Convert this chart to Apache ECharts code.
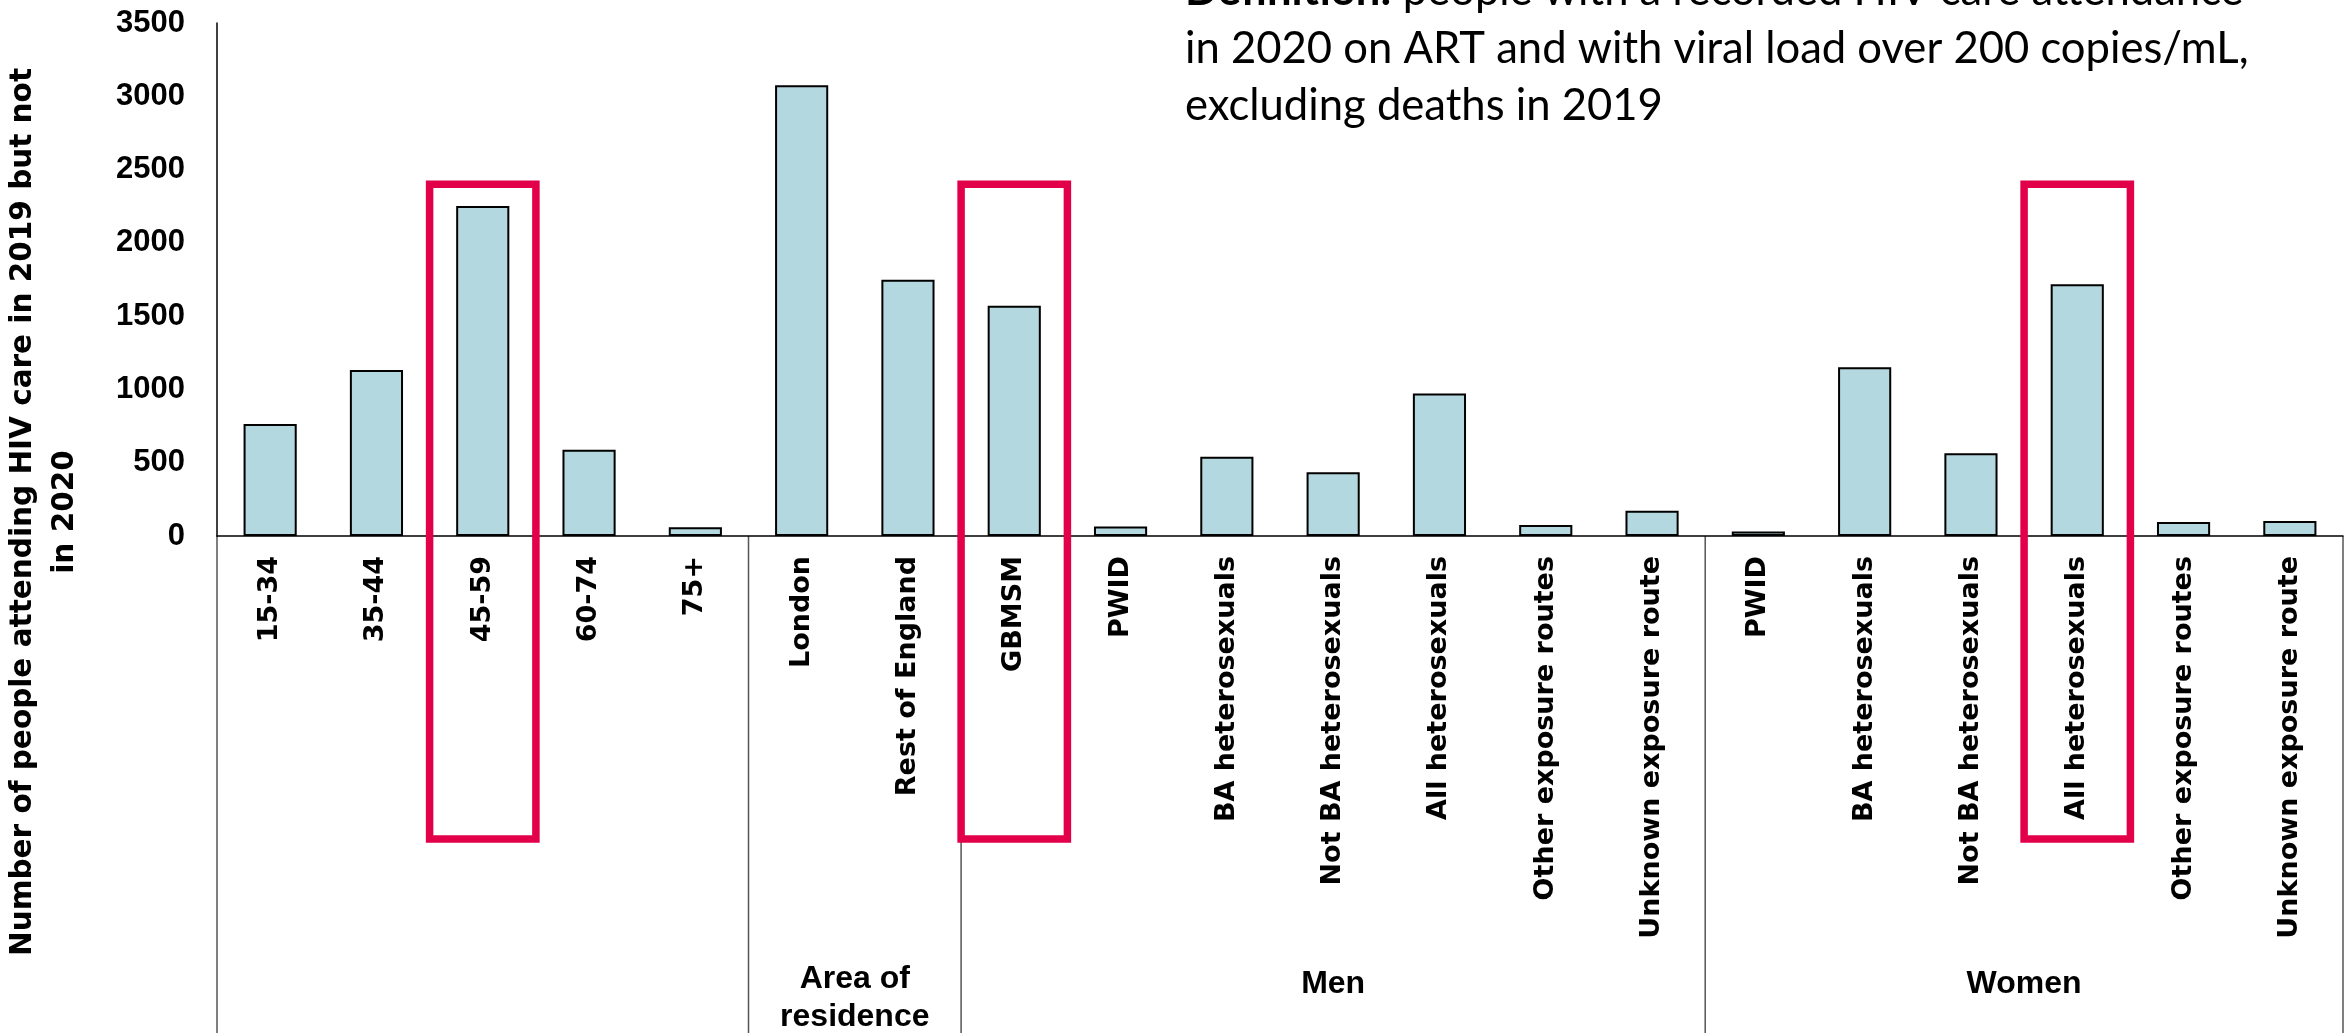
<!DOCTYPE html>
<html>
<head>
<meta charset="utf-8">
<title>People attending HIV care in 2019 but not in 2020</title>
<script src="https://cdn.jsdelivr.net/npm/echarts@6/dist/echarts.min.js"></script>
<style>
  html, body { margin: 0; padding: 0; background: #ffffff; }
  #chart { width: 2351px; height: 1033px; }
</style>
</head>
<body>
<div id="chart"></div>
<script>
// Categories along the x axis (age, area of residence, men, women)
const categories = [
  '15-34', '35-44', '45-59', '60-74', '75+',
  'London', 'Rest of England',
  'GBMSM', 'PWID', 'BA heterosexuals', 'Not BA heterosexuals', 'All heterosexuals', 'Other exposure routes', 'Unknown exposure route',
  'PWID', 'BA heterosexuals', 'Not BA heterosexuals', 'All heterosexuals', 'Other exposure routes', 'Unknown exposure route'
];

// Number of people attending HIV care in 2019 but not in 2020
const values = [
  764, 1132, 2251, 589, 59,
  3075, 1748,
  1571, 64, 541, 435, 973, 75, 173,
  30, 1151, 564, 1717, 95, 102
];

// Second-level grouping of the categories
const groupNames = ['', 'Area of\nresidence', 'Men', 'Women'];
const groupSizes = [5, 2, 7, 6];

// Categories outlined in red
const highlighted = [2, 7, 17];
const highlightTopValue = 2400;

// Y axis ticks
const yTicks = { min: 0, max: 3500, interval: 500 };

const yTitle = 'Number of people attending HIV care in 2019 but not\nin 2020';
const definitionLines = [
  '{b|Definition:} people with a recorded HIV care attendance',
  'in 2020 on ART and with viral load over 200 copies/mL,',
  'excluding deaths in 2019'
];

const chart = echarts.init(document.getElementById('chart'));

const option = {
  backgroundColor: '#ffffff',
  animation: false,
  grid: { left: 217, right: 8, top: 23, bottom: 497, containLabel: false },
  xAxis: {
    type: 'category',
    data: categories,
    boundaryGap: true,
    axisLine: { show: true, lineStyle: { color: '#000000', width: 1.5 } },
    axisTick: { show: false },
    axisLabel: {
      interval: 0,
      rotate: 90,
      margin: 20,
      color: '#000000',
      fontFamily: 'DejaVu Sans',
      fontWeight: 'bold',
      fontSize: 27
    }
  },
  yAxis: {
    type: 'value',
    min: yTicks.min,
    max: yTicks.max,
    interval: yTicks.interval,
    axisLine: { show: true, lineStyle: { color: '#000000', width: 1.5 } },
    axisTick: { show: false },
    splitLine: { show: false },
    axisLabel: {
      margin: 32,
      color: '#000000',
      fontFamily: 'Liberation Sans',
      fontWeight: 'bold',
      fontSize: 31,
      formatter: v => String(v)
    }
  },
  series: [{
    type: 'bar',
    data: values,
    barWidth: '50%',
    itemStyle: { color: '#B4D8DF', borderColor: '#000000', borderWidth: 2 }
  }]
};

chart.setOption(option);

// Overlay: axis title, group separators, group names, red highlight boxes, definition note
function buildOverlay() {
  const c0 = chart.convertToPixel({ xAxisIndex: 0 }, 0);
  const c1 = chart.convertToPixel({ xAxisIndex: 0 }, 1);
  const step = c1 - c0;
  const boundary = k => c0 + (k - 0.5) * step;
  const base = chart.convertToPixel({ yAxisIndex: 0 }, 0);
  const H = chart.getHeight();
  const elements = [];

  // separators between category groups, running below the axis
  let k = 0;
  const cuts = [0];
  groupSizes.forEach(n => { k += n; cuts.push(k); });
  cuts.forEach(idx => {
    elements.push({
      type: 'line',
      shape: { x1: boundary(idx), y1: base, x2: boundary(idx), y2: H },
      style: { stroke: '#555555', lineWidth: 1.5 },
      silent: true
    });
  });

  // group names
  for (let g = 0; g < groupNames.length; g++) {
    if (!groupNames[g]) continue;
    const mid = (boundary(cuts[g]) + boundary(cuts[g + 1])) / 2;
    const twoLines = groupNames[g].indexOf('\n') >= 0;
    elements.push({
      type: 'text',
      x: mid,
      y: twoLines ? base + 462 : base + 448,
      style: {
        text: groupNames[g],
        align: 'center',
        verticalAlign: 'middle',
        font: 'bold 32px "Liberation Sans", Arial, sans-serif',
        lineHeight: 38,
        fill: '#000000'
      },
      silent: true
    });
  }

  // red outlines around highlighted categories
  const topPx = chart.convertToPixel({ yAxisIndex: 0 }, highlightTopValue);
  highlighted.forEach(i => {
    const x1 = boundary(i);
    const x2 = boundary(i + 1);
    elements.push({
      type: 'rect',
      shape: { x: x1, y: topPx, width: x2 - x1, height: base + 303 - topPx },
      style: { fill: 'none', stroke: '#E2004A', lineWidth: 7.5 },
      z: 10,
      silent: true
    });
  });

  // y axis title
  elements.push({
    type: 'text',
    x: 44,
    y: 512,
    rotation: Math.PI / 2,
    style: {
      text: yTitle,
      align: 'center',
      verticalAlign: 'middle',
      font: 'bold 29.5px "DejaVu Sans", sans-serif',
      lineHeight: 42,
      fill: '#000000'
    },
    silent: true
  });

  // definition note, partly running off the top edge
  definitionLines.forEach((line, j) => {
    elements.push({
      type: 'text',
      x: 1185,
      y: -9 + j * 57.7,
      style: {
        text: line,
        align: 'left',
        verticalAlign: 'middle',
        font: '43.6px Lato, "Open Sans", sans-serif',
        fill: '#000000',
        rich: { b: { font: 'bold 43.6px Lato, "Open Sans", sans-serif', fill: '#000000' } }
      },
      silent: true
    });
  });

  chart.setOption({ graphic: { elements: elements } });
}

buildOverlay();
</script>
</body>
</html>
